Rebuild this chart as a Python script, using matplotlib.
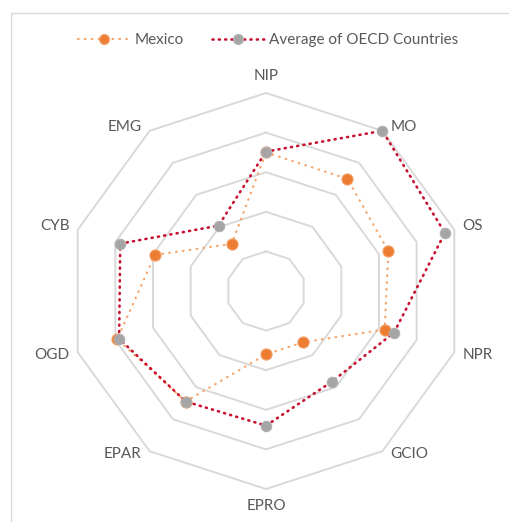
import numpy as np
import matplotlib
matplotlib.use("Agg")
import matplotlib.pyplot as plt
from matplotlib.lines import Line2D
from matplotlib.patches import Rectangle

categories = ["NIP", "MO", "OS", "NPR", "GCIO", "EPRO", "EPAR", "OGD", "CYB", "EMG"]
mexico = [3.5, 3.5, 3.25, 3.15, 1.6, 1.6, 3.45, 3.95, 2.95, 1.47]
oecd_avg = [3.52, 5.0, 4.75, 3.4, 2.83, 3.4, 3.45, 3.9, 3.87, 2.04]
ring_levels = [1, 2, 3, 4, 5]

plt.rcParams['font.family'] = ['Lato', 'DejaVu Sans']

W, H = 509, 522
fig = plt.figure(figsize=(W / 100, H / 100), dpi=100)
fig.patch.set_facecolor("white")

# chart frame (light border on top/left)
fig.patches.append(Rectangle((11 / W, -0.1), 1.2, (H - 13) / H + 0.1,
                             transform=fig.transFigure, fill=False,
                             edgecolor="#D9D9D9", linewidth=1.0))

cx, cy, R = 266 / W, 1 - 291 / H, 198
ax = fig.add_axes([cx - R / W, cy - R / H, 2 * R / W, 2 * R / H], projection="polar")
ax.set_theta_offset(np.pi / 2)
ax.set_theta_direction(-1)
ax.set_ylim(0, 5)
ax.set_axis_off()

n = len(categories)
theta = np.linspace(0, 2 * np.pi, n, endpoint=False)
tc = np.concatenate([theta, theta[:1]])

for lv in ring_levels:
    ax.plot(tc, [lv] * (n + 1), color="#D9D9D9", lw=1.4, zorder=1, clip_on=False)

mx = np.concatenate([mexico, mexico[:1]])
av = np.concatenate([oecd_avg, oecd_avg[:1]])

mex_ls = (0, (0.3, 2.8))
avg_ls = (0, (0.4, 2.0))

ax.plot(tc, mx, color="#F4A66E", lw=1.6, linestyle=mex_ls,
        dash_capstyle="round", zorder=3, clip_on=False)
ax.plot(theta, mexico, "o", color="#ED7D31", ms=8, mec="#F2A06A", mew=0.8,
        zorder=4, clip_on=False)
ax.plot(tc, av, color="#C8102E", lw=1.9, linestyle=avg_ls,
        dash_capstyle="round", zorder=5, clip_on=False)
ax.plot(theta, oecd_avg, "o", color="#A5A5A5", ms=7.5, mec="#B0B0B0", mew=0.8,
        zorder=6, clip_on=False)

gap = 8
for t, lab in zip(theta, categories):
    deg = np.degrees(t) % 360
    if deg < 1:
        ha, va, off = "center", "bottom", (0, 10)
    elif abs(deg - 180) < 1:
        ha, va, off = "center", "top", (0, -10)
    elif deg < 180:
        ha, va = "left", "center"
        off = (gap, 4 if deg < 90 else -3)
    else:
        ha, va = "right", "center"
        off = (-gap, 4 if deg > 270 else -3)
    ax.annotate(lab, xy=(t, 5), xytext=off, textcoords="offset pixels",
                ha=ha, va=va, fontsize=11, color="#595959",
                annotation_clip=False)

handles = [
    Line2D([0], [0], color="#F4A66E", lw=1.6, linestyle=mex_ls,
           dash_capstyle="round", marker="o", ms=7, mfc="#ED7D31", mec="#F2A06A"),
    Line2D([0], [0], color="#C8102E", lw=1.9, linestyle=avg_ls,
           dash_capstyle="round", marker="o", ms=7, mfc="#A5A5A5", mec="#B0B0B0"),
]
fig.legend(handles, ["Mexico", "Average of OECD Countries"], loc="center",
           bbox_to_anchor=(268 / W, 1 - 40 / H), ncol=2, frameon=False,
           fontsize=11, labelcolor="#595959", handlelength=3.4,
           columnspacing=1.8, handletextpad=0.35)

fig.savefig("out.png", dpi=100, facecolor="white")
